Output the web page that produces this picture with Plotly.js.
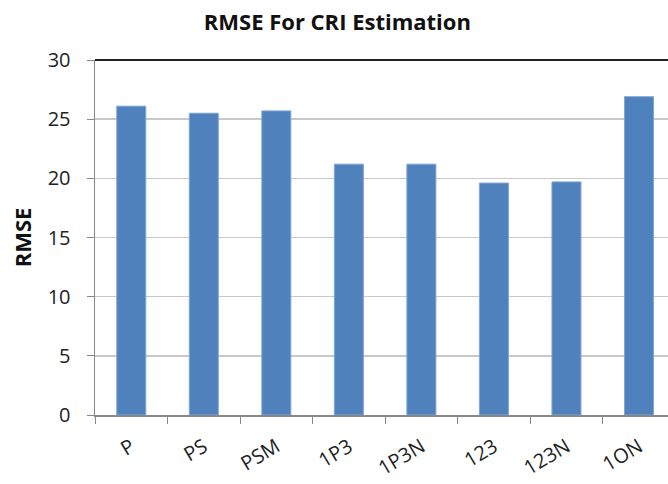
<!DOCTYPE html>
<html><head><meta charset="utf-8">
<script src="https://cdn.plot.ly/plotly-3.0.1.min.js"></script>
<style>body{margin:0;background:#fff}#c{width:668px;height:484px}</style>
</head><body><div id="c"></div>
<script>
const categories = ["P","PS","PSM","1P3","1P3N","123","123N","1ON"];
const rmse = [26.1, 25.5, 25.7, 21.2, 21.2, 19.6, 19.7, 26.9];
const yTicks = [0,5,10,15,20,25,30];

const data = [{
  type:'bar', x:categories, y:rmse,
  marker:{color:'#4F81BD', line:{color:'#7FA6D6', width:1}},
  hoverinfo:'x+y'
}];
const layout = {
  width:668, height:484,
  margin:{l:95, r:0, t:60, b:69},
  paper_bgcolor:'#fff', plot_bgcolor:'#fff',
  bargap:0.6,
  showlegend:false,
  title:{text:'<b>RMSE For CRI Estimation</b>', x:0.505, xanchor:'center', y:0.953, yanchor:'middle',
         font:{family:'Open Sans, sans-serif', size:22, color:'#111'}},
  xaxis:{type:'category', range:[-0.5, 7.4], tickangle:-31,
         ticks:'outside', ticklen:7, tickcolor:'#888', tickson:'boundaries',
         showline:true, linecolor:'#888', linewidth:1.5, showgrid:false, ticklabelstandoff:11,
         tickfont:{family:'Open Sans, sans-serif', size:20, color:'#222'}},
  yaxis:{range:[0,30], tickvals:yTicks, ticks:'outside', ticklen:7, tickcolor:'#888',
         showline:true, linecolor:'#888', linewidth:1.5, zeroline:false,
         showgrid:true, gridcolor:'#c8c8c8', gridwidth:1.5, ticklabelstandoff:12,
         tickfont:{family:'Open Sans, sans-serif', size:20, color:'#222'},
         title:{text:'<b>RMSE</b>', standoff:10, font:{family:'Open Sans, sans-serif', size:22, color:'#111'}}},
  shapes:[{type:'line', xref:'paper', yref:'paper', x0:0, x1:1, y0:1, y1:1, line:{color:'#222', width:2}}]
};
Plotly.newPlot('c', data, layout, {displayModeBar:false, staticPlot:true});
</script></body></html>
